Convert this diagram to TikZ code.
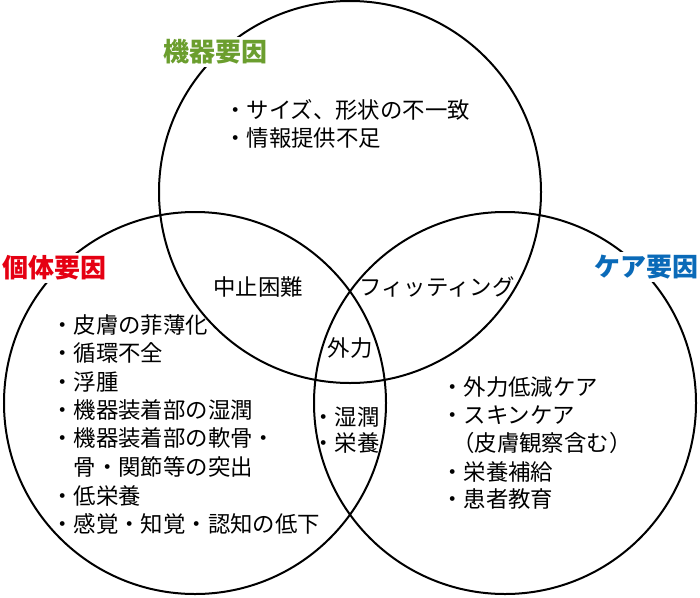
\documentclass[tikz,border=0pt]{standalone}
\usepackage{fontspec}
\newfontfamily\jp{Noto Sans CJK JP}
\definecolor{kgreen}{RGB}{107,158,46}
\definecolor{kred}{RGB}{229,0,18}
\definecolor{kblue}{RGB}{10,106,184}
\begin{document}
\begin{tikzpicture}[x=1pt,y=-1pt,
  circ/.style={draw=black,line width=2pt,circle,minimum size=382pt,inner sep=0pt},
  body/.style={font=\jp\fontsize{22.4}{26}\selectfont,inner sep=0pt,anchor=west},
  ctext/.style={font=\jp\fontsize{22.4}{26}\selectfont,inner sep=0pt},
  lab/.style={font=\jp\bfseries\fontsize{26}{30}\selectfont,fill=white,inner sep=3pt}]
\useasboundingbox[fill=white] (0,0) rectangle (700,597);
% circles
\node[circ] (ctop) at (350,192) {};
\node[circ] (cleft) at (195,403) {};
\node[circ] (cright) at (505,403) {};
% labels
\node[lab,text=kgreen] (lkiki) at (215,52) {機器要因};
\node[lab,text=kred] (lkotai) at (54,268) {個体要因};
\node[lab,text=kblue] (lcare) at (646,267) {ケア要因};
% top list
\node[body] (t1) at (224,110) {・サイズ、形状の不一致};
\node[body] (t2) at (224,138) {・情報提供不足};
% left list
\node[body] (a1) at (51,325) {・皮膚の菲薄化};
\node[body] (a2) at (51,353) {・循環不全};
\node[body] (a3) at (51,382) {・浮腫};
\node[body] (a4) at (51,410) {・機器装着部の湿潤};
\node[body] (a5) at (51,438) {・機器装着部の軟骨・};
\node[body] (a6) at (51,467) {\hphantom{・}骨・関節等の突出};
\node[body] (a7) at (51,496) {・低栄養};
\node[body] (a8) at (51,524) {・感覚・知覚・認知の低下};
% right list
\node[body] (b1) at (441,387) {・外力低減ケア};
\node[body] (b2) at (441,415) {・スキンケア};
\node[body] (b3) at (452,443) {（皮膚観察含む）};
\node[body] (b4) at (441,472) {・栄養補給};
\node[body] (b5) at (441,499) {・患者教育};
% overlaps
\node[ctext] (m1) at (258,287) {中止困難};
\node[ctext] (m2) at (437,287) {フィッティング};
\node[ctext] (m3) at (350,348) {外力};
\node[body] (m4) at (312,417) {・湿潤};
\node[body] (m5) at (312,443) {・栄養};
\end{tikzpicture}
\end{document}
